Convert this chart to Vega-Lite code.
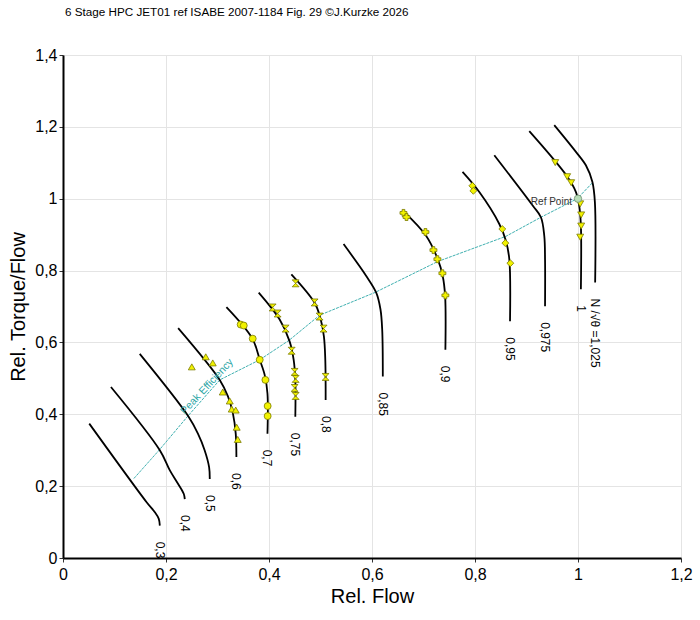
{
  "$schema": "https://vega.github.io/schema/vega-lite/v6.json",
  "width": 618,
  "height": 503,
  "autosize": {"type": "none"},
  "padding": {"left": 63, "top": 55, "right": 19, "bottom": 62},
  "background": "white",
  "title": {
    "text": "6 Stage HPC JET01 ref ISABE 2007-1184 Fig. 29 ©J.Kurzke 2026",
    "anchor": "start",
    "frame": "group",
    "font": "Liberation Sans",
    "fontSize": 11.7,
    "fontWeight": "normal",
    "color": "#000",
    "baseline": "bottom",
    "offset": 17,
    "dx": 2
  },
  "config": {
    "view": {"stroke": null},
    "font": "Liberation Sans",
    "axis": {
      "labelFont": "Liberation Sans",
      "titleFont": "Liberation Sans",
      "labelFontSize": 16,
      "titleFontSize": 20,
      "titleFontWeight": "normal",
      "labelColor": "#000",
      "titleColor": "#000",
      "gridColor": "#e4e4e4",
      "domainColor": "#000",
      "domainWidth": 2,
      "tickColor": "#333",
      "tickSize": 4
    }
  },
  "datasets": {
    "peak": [
      {"x": 0.1376, "y": 0.2212},
      {"x": 0.188, "y": 0.3024},
      {"x": 0.2423, "y": 0.3948},
      {"x": 0.3044, "y": 0.4957},
      {"x": 0.382, "y": 0.5517},
      {"x": 0.4388, "y": 0.6057},
      {"x": 0.4983, "y": 0.6757},
      {"x": 0.6062, "y": 0.7393},
      {"x": 0.7277, "y": 0.8252},
      {"x": 0.86, "y": 0.8953},
      {"x": 0.928, "y": 0.9484},
      {"x": 0.9985, "y": 1.0},
      {"x": 1.0281, "y": 1.0445}
    ],
    "speed": [
      {"s": "0,3", "i": 0, "x": 0.051, "y": 0.374},
      {"s": "0,3", "i": 1, "x": 0.162, "y": 0.156},
      {"s": "0,3", "i": 2, "x": 0.178, "y": 0.128},
      {"s": "0,3", "i": 3, "x": 0.186, "y": 0.109},
      {"s": "0,3", "i": 4, "x": 0.188, "y": 0.09},
      {"s": "0,4", "i": 0, "x": 0.0931, "y": 0.476},
      {"s": "0,4", "i": 1, "x": 0.188, "y": 0.3},
      {"s": "0,4", "i": 2, "x": 0.2075, "y": 0.244},
      {"s": "0,4", "i": 3, "x": 0.2236, "y": 0.206},
      {"s": "0,4", "i": 4, "x": 0.2346, "y": 0.178},
      {"s": "0,4", "i": 5, "x": 0.2365, "y": 0.164},
      {"s": "0,5", "i": 0, "x": 0.149, "y": 0.568},
      {"s": "0,5", "i": 1, "x": 0.243, "y": 0.395},
      {"s": "0,5", "i": 2, "x": 0.262, "y": 0.346},
      {"s": "0,5", "i": 3, "x": 0.275, "y": 0.3},
      {"s": "0,5", "i": 4, "x": 0.2837, "y": 0.253},
      {"s": "0,5", "i": 5, "x": 0.285, "y": 0.22},
      {"s": "0,6", "i": 0, "x": 0.2236, "y": 0.64},
      {"s": "0,6", "i": 1, "x": 0.3044, "y": 0.4957},
      {"s": "0,6", "i": 2, "x": 0.3205, "y": 0.449},
      {"s": "0,6", "i": 3, "x": 0.33, "y": 0.402},
      {"s": "0,6", "i": 4, "x": 0.3354, "y": 0.346},
      {"s": "0,6", "i": 5, "x": 0.3367, "y": 0.281},
      {"s": "0,7", "i": 0, "x": 0.3173, "y": 0.698},
      {"s": "0,7", "i": 1, "x": 0.3677, "y": 0.6105},
      {"s": "0,7", "i": 2, "x": 0.382, "y": 0.552},
      {"s": "0,7", "i": 3, "x": 0.3916, "y": 0.5097},
      {"s": "0,7", "i": 4, "x": 0.397, "y": 0.458},
      {"s": "0,7", "i": 5, "x": 0.397, "y": 0.346},
      {"s": "0,75", "i": 0, "x": 0.38, "y": 0.7385},
      {"s": "0,75", "i": 1, "x": 0.4207, "y": 0.6637},
      {"s": "0,75", "i": 2, "x": 0.44, "y": 0.603},
      {"s": "0,75", "i": 3, "x": 0.4479, "y": 0.5517},
      {"s": "0,75", "i": 4, "x": 0.4511, "y": 0.4957},
      {"s": "0,75", "i": 5, "x": 0.4511, "y": 0.393},
      {"s": "0,8", "i": 0, "x": 0.4434, "y": 0.7897},
      {"s": "0,8", "i": 1, "x": 0.4886, "y": 0.7104},
      {"s": "0,8", "i": 2, "x": 0.4996, "y": 0.6684},
      {"s": "0,8", "i": 3, "x": 0.5066, "y": 0.617},
      {"s": "0,8", "i": 4, "x": 0.5093, "y": 0.5517},
      {"s": "0,8", "i": 5, "x": 0.51, "y": 0.4397},
      {"s": "0,85", "i": 0, "x": 0.5448, "y": 0.8737},
      {"s": "0,85", "i": 1, "x": 0.5888, "y": 0.785},
      {"s": "0,85", "i": 2, "x": 0.6082, "y": 0.7384},
      {"s": "0,85", "i": 3, "x": 0.6165, "y": 0.6917},
      {"s": "0,85", "i": 4, "x": 0.6198, "y": 0.6357},
      {"s": "0,85", "i": 5, "x": 0.621, "y": 0.505},
      {"s": "0,9", "i": 0, "x": 0.6598, "y": 0.967},
      {"s": "0,9", "i": 1, "x": 0.705, "y": 0.897},
      {"s": "0,9", "i": 2, "x": 0.7277, "y": 0.8317},
      {"s": "0,9", "i": 3, "x": 0.7373, "y": 0.785},
      {"s": "0,9", "i": 4, "x": 0.742, "y": 0.729},
      {"s": "0,9", "i": 5, "x": 0.7425, "y": 0.5797},
      {"s": "0,95", "i": 0, "x": 0.7758, "y": 1.0745},
      {"s": "0,95", "i": 1, "x": 0.8084, "y": 1.0185},
      {"s": "0,95", "i": 2, "x": 0.8472, "y": 0.9297},
      {"s": "0,95", "i": 3, "x": 0.86, "y": 0.883},
      {"s": "0,95", "i": 4, "x": 0.8666, "y": 0.8317},
      {"s": "0,95", "i": 5, "x": 0.868, "y": 0.659},
      {"s": "0,975", "i": 0, "x": 0.8375, "y": 1.121},
      {"s": "0,975", "i": 1, "x": 0.912, "y": 0.981},
      {"s": "0,975", "i": 2, "x": 0.928, "y": 0.9484},
      {"s": "0,975", "i": 3, "x": 0.9345, "y": 0.897},
      {"s": "0,975", "i": 4, "x": 0.936, "y": 0.8317},
      {"s": "0,975", "i": 5, "x": 0.936, "y": 0.701},
      {"s": "1", "i": 0, "x": 0.9054, "y": 1.188},
      {"s": "1", "i": 1, "x": 0.9797, "y": 1.0605},
      {"s": "1", "i": 2, "x": 0.996, "y": 1.0185},
      {"s": "1", "i": 3, "x": 1.0023, "y": 0.981},
      {"s": "1", "i": 4, "x": 1.0056, "y": 0.925},
      {"s": "1", "i": 5, "x": 1.0056, "y": 0.7477},
      {"s": "N /√θ =1,025", "i": 0, "x": 0.9539, "y": 1.205},
      {"s": "N /√θ =1,025", "i": 1, "x": 0.996, "y": 1.1305},
      {"s": "N /√θ =1,025", "i": 2, "x": 1.0153, "y": 1.093},
      {"s": "N /√θ =1,025", "i": 3, "x": 1.028, "y": 1.0465},
      {"s": "N /√θ =1,025", "i": 4, "x": 1.0328, "y": 0.9905},
      {"s": "N /√θ =1,025", "i": 5, "x": 1.0333, "y": 0.7665}
    ],
    "measured": [
      {"s": "0,6", "x": 0.2501, "y": 0.532},
      {"s": "0,6", "x": 0.2772, "y": 0.56},
      {"s": "0,6", "x": 0.2908, "y": 0.543},
      {"s": "0,6", "x": 0.3102, "y": 0.462},
      {"s": "0,6", "x": 0.3238, "y": 0.437},
      {"s": "0,6", "x": 0.3276, "y": 0.4145},
      {"s": "0,6", "x": 0.3354, "y": 0.4117},
      {"s": "0,6", "x": 0.3373, "y": 0.364},
      {"s": "0,6", "x": 0.3393, "y": 0.33},
      {"s": "0,7", "x": 0.345, "y": 0.6497},
      {"s": "0,7", "x": 0.351, "y": 0.647},
      {"s": "0,7", "x": 0.3684, "y": 0.6105},
      {"s": "0,7", "x": 0.382, "y": 0.5517},
      {"s": "0,7", "x": 0.393, "y": 0.4957},
      {"s": "0,7", "x": 0.3974, "y": 0.423},
      {"s": "0,7", "x": 0.3974, "y": 0.395},
      {"s": "0,75", "x": 0.4071, "y": 0.6973},
      {"s": "0,75", "x": 0.4168, "y": 0.6805},
      {"s": "0,75", "x": 0.4323, "y": 0.6385},
      {"s": "0,75", "x": 0.444, "y": 0.5769},
      {"s": "0,75", "x": 0.4498, "y": 0.518},
      {"s": "0,75", "x": 0.4517, "y": 0.4985},
      {"s": "0,75", "x": 0.4498, "y": 0.4733},
      {"s": "0,75", "x": 0.4517, "y": 0.451},
      {"s": "0,8", "x": 0.4517, "y": 0.7645},
      {"s": "0,8", "x": 0.4886, "y": 0.7113},
      {"s": "0,8", "x": 0.4983, "y": 0.672},
      {"s": "0,8", "x": 0.506, "y": 0.6385},
      {"s": "0,8", "x": 0.5099, "y": 0.504},
      {"s": "0,9", "x": 0.6611, "y": 0.9605},
      {"s": "0,9", "x": 0.667, "y": 0.949},
      {"s": "0,9", "x": 0.7038, "y": 0.9073},
      {"s": "0,9", "x": 0.7193, "y": 0.857},
      {"s": "0,9", "x": 0.727, "y": 0.8317},
      {"s": "0,9", "x": 0.7367, "y": 0.7925},
      {"s": "0,9", "x": 0.7425, "y": 0.731},
      {"s": "0,95", "x": 0.7949, "y": 1.036},
      {"s": "0,95", "x": 0.7968, "y": 1.022},
      {"s": "0,95", "x": 0.853, "y": 0.9157},
      {"s": "0,95", "x": 0.8589, "y": 0.8765},
      {"s": "0,95", "x": 0.8686, "y": 0.8205},
      {"s": "1", "x": 0.9558, "y": 1.1005},
      {"s": "1", "x": 0.979, "y": 1.0613},
      {"s": "1", "x": 0.9868, "y": 1.0445},
      {"s": "1", "x": 1.0043, "y": 0.9857},
      {"s": "1", "x": 1.0062, "y": 0.955},
      {"s": "1", "x": 1.0062, "y": 0.924},
      {"s": "1", "x": 1.0043, "y": 0.893}
    ],
    "notes": [
      {"kind": "peak", "text": "Peak Efficiency", "x": 0.2797, "y": 0.4769},
      {"kind": "ref", "text": "Ref Point", "x": 1.0, "y": 1.0}
    ]
  },
  "encoding": {
    "x": {
      "field": "x",
      "type": "quantitative",
      "scale": {"domain": [0, 1.2], "nice": false, "zero": false},
      "axis": {
        "title": "Rel. Flow",
        "values": [0, 0.2, 0.4, 0.6, 0.8, 1, 1.2],
        "labelExpr": "replace(format(datum.value, '~g'), '.', ',')",
        "labelFlush": false,
        "labelPadding": 4,
        "titlePadding": 4
      }
    },
    "y": {
      "field": "y",
      "type": "quantitative",
      "scale": {"domain": [0, 1.4], "nice": false, "zero": false},
      "axis": {
        "title": "Rel. Torque/Flow",
        "values": [0, 0.2, 0.4, 0.6, 0.8, 1, 1.2, 1.4],
        "labelExpr": "replace(format(datum.value, '~g'), '.', ',')",
        "labelPadding": 2,
        "titlePadding": 6
      }
    }
  },
  "layer": [
    {
      "data": {"name": "peak"},
      "mark": {"type": "line", "color": "#3fb0b0", "strokeWidth": 1, "strokeDash": [3, 1]},
      "encoding": {}
    },
    {
      "data": {"name": "speed"},
      "mark": {"type": "line", "color": "#000", "strokeWidth": 1.8, "interpolate": "catmull-rom"},
      "encoding": {
        "detail": {"field": "s", "type": "nominal"},
        "order": {"field": "i", "type": "quantitative"}
      }
    },
    {
      "data": {"name": "measured"},
      "mark": {"type": "point", "filled": true, "fill": "#f2f200", "stroke": "#7a7a00", "strokeWidth": 0.8, "size": 48, "opacity": 1},
      "encoding": {
        "shape": {
          "field": "s",
          "type": "nominal",
          "scale": {
            "domain": ["0,6", "0,7", "0,75", "0,8", "0,9", "0,95", "1"],
            "range": ["triangle-up", "circle", "M-1,-1L1,-1L-1,1L1,1Z", "M-1,-1L1,-1L-1,1L1,1Z", "cross", "diamond", "triangle-down"]
          },
          "legend": null
        }
      }
    },
    {
      "data": {"name": "notes"},
      "transform": [{"filter": "datum.kind === 'ref'"}],
      "mark": {"type": "point", "filled": true, "fill": "#b7dcb7", "stroke": "#6f8f6f", "strokeWidth": 0.8, "size": 55, "shape": "circle", "opacity": 1},
      "encoding": {}
    },
    {
      "data": {"name": "speed"},
      "transform": [
        {"joinaggregate": [{"op": "max", "field": "i", "as": "last"}], "groupby": ["s"]},
        {"filter": "datum.i === datum.last"}
      ],
      "mark": {"type": "text", "angle": 90, "align": "left", "baseline": "middle", "dx": 16, "fontSize": 12, "color": "#000"},
      "encoding": {"text": {"field": "s"}}
    },
    {
      "data": {"name": "notes"},
      "transform": [{"filter": "datum.kind === 'peak'"}],
      "mark": {"type": "text", "angle": -47, "align": "center", "baseline": "middle", "fontSize": 10.5, "color": "#2aa5a5"},
      "encoding": {"text": {"field": "text"}}
    },
    {
      "data": {"name": "notes"},
      "transform": [{"filter": "datum.kind === 'ref'"}],
      "mark": {"type": "text", "align": "right", "baseline": "middle", "dx": -6, "dy": 3, "fontSize": 10, "color": "#333"},
      "encoding": {"text": {"field": "text"}}
    }
  ]
}
